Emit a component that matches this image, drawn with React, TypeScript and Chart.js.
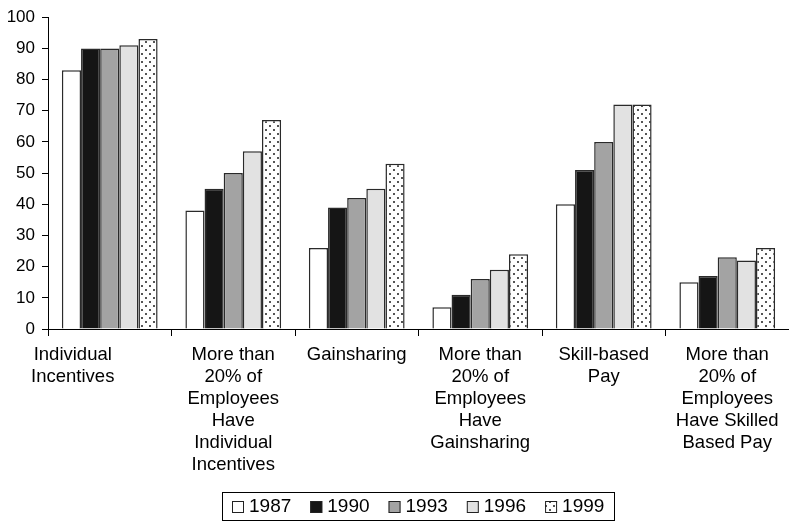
import React, { useEffect, useRef } from 'react';
import { Chart, registerables } from 'chart.js';

Chart.register(...registerables);

const categories: string[][] = [
  ['Individual', 'Incentives'],
  ['More than', '20% of', 'Employees', 'Have', 'Individual', 'Incentives'],
  ['Gainsharing'],
  ['More than', '20% of', 'Employees', 'Have', 'Gainsharing'],
  ['Skill-based', 'Pay'],
  ['More than', '20% of', 'Employees', 'Have Skilled', 'Based Pay'],
];
const years = ['1987', '1990', '1993', '1996', '1999'];
const v1987 = [83, 38, 26, 7, 40, 15];
const v1990 = [90, 45, 39, 11, 51, 17];
const v1993 = [90, 50, 42, 16, 60, 23];
const v1996 = [91, 57, 45, 19, 72, 22];
const v1999 = [93, 67, 53, 24, 72, 26];
const yMin = 0;
const yMax = 100;
const yStep = 10;

const FONT = '"Liberation Sans", Arial, Helvetica, sans-serif';

function makeDots(): CanvasPattern | string {
  const c = document.createElement('canvas');
  c.width = 8;
  c.height = 8;
  const g = c.getContext('2d');
  if (!g) return '#fff';
  g.fillStyle = '#ffffff';
  g.fillRect(0, 0, 8, 8);
  g.fillStyle = '#555555';
  g.fillRect(1, 1, 2, 2);
  g.fillRect(5, 5, 2, 2);
  const p = g.createPattern(c, 'repeat');
  return p || '#fff';
}

// Shift the first category label to the left, as in the source figure
const firstLabelShift = {
  id: 'firstLabelShift',
  beforeDraw(chart: any) {
    const xs = chart.scales.x;
    if (!xs) return;
    const items = xs.getLabelItems();
    if (items && items[0] && !items[0].__shifted) {
      items[0].options.translation[0] -= 37;
      items[0].__shifted = true;
    }
  },
};

const boxLegend = {
  id: 'boxLegend',
  afterDraw(chart: any) {
    const ctx: CanvasRenderingContext2D = chart.ctx;
    ctx.save();
    ctx.font = `19px ${FONT}`;
    const sq = 12;
    const gap = 5;
    const spacing = 19;
    const padX = 10;
    const items = chart.data.datasets.map((ds: any) => ({
      label: ds.label,
      fill: ds.backgroundColor,
      w: sq + gap + ctx.measureText(ds.label).width,
    }));
    const total =
      items.reduce((s: number, i: any) => s + i.w, 0) + spacing * (items.length - 1) + padX * 2;
    const cx = (chart.chartArea.left + chart.chartArea.right) / 2;
    const top = 492;
    const h = 28;
    const left = Math.round(cx - total / 2);
    ctx.strokeStyle = '#000';
    ctx.lineWidth = 1;
    ctx.strokeRect(left + 0.5, top + 0.5, Math.round(total), h);
    let x = left + padX;
    const midY = top + h / 2 + 1;
    items.forEach((it: any) => {
      ctx.fillStyle = it.fill;
      ctx.fillRect(x, Math.round(midY - sq / 2), sq, sq);
      ctx.strokeStyle = '#222';
      ctx.strokeRect(x + 0.5, Math.round(midY - sq / 2) + 0.5, sq - 1, sq - 1);
      ctx.fillStyle = '#000';
      ctx.textBaseline = 'middle';
      ctx.textAlign = 'left';
      ctx.fillText(it.label, x + sq + gap, midY);
      x += it.w + spacing;
    });
    ctx.restore();
  },
};

export default function App() {
  const ref = useRef<HTMLCanvasElement | null>(null);

  useEffect(() => {
    if (!ref.current) return;
    const dots = makeDots();
    const fills: any[] = ['#ffffff', '#151515', '#a3a3a3', '#e2e2e2', dots];
    const series = [v1987, v1990, v1993, v1996, v1999];
    const chart = new Chart(ref.current, {
      type: 'bar',
      data: {
        labels: categories,
        datasets: series.map((vals, i) => ({
          label: years[i],
          data: vals,
          backgroundColor: fills[i],
          borderColor: '#2a2a2a',
          borderWidth: 1.5,
          borderSkipped: 'bottom',
          categoryPercentage: 0.775,
          barPercentage: 1,
        })),
      },
      options: {
        responsive: false,
        animation: false,
        layout: { padding: { top: 15, right: 0, left: 0, bottom: 0 } },
        plugins: {
          legend: { display: false },
          tooltip: { enabled: false },
        },
        scales: {
          x: {
            grid: {
              display: true,
              offset: true,
              drawOnChartArea: false,
              drawTicks: true,
              tickLength: 7,
              color: '#000',
            },
            border: { display: true, color: '#000', width: 1 },
            ticks: {
              color: '#000',
              font: { family: FONT, size: 18.5, lineHeight: 22 / 18.5 },
              padding: 8,
              maxRotation: 0,
              autoSkip: false,
            },
            afterFit: (s: any) => {
              s.height = 192;
            },
          },
          y: {
            min: yMin,
            max: yMax,
            grid: {
              display: true,
              drawOnChartArea: false,
              drawTicks: true,
              tickLength: 6,
              color: '#000',
            },
            border: { display: true, color: '#000', width: 1 },
            ticks: {
              stepSize: yStep,
              color: '#000',
              font: { family: FONT, size: 17 },
              padding: 7,
            },
            afterFit: (s: any) => {
              s.width = 48;
            },
          },
        },
      },
      plugins: [firstLabelShift, boxLegend],
    });
    return () => chart.destroy();
  }, []);

  return (
    <div style={{ position: 'fixed', left: 0, top: 0, width: 789, height: 521, background: '#fff' }}>
      <canvas ref={ref} width={789} height={521} style={{ display: 'block' }} />
    </div>
  );
}
